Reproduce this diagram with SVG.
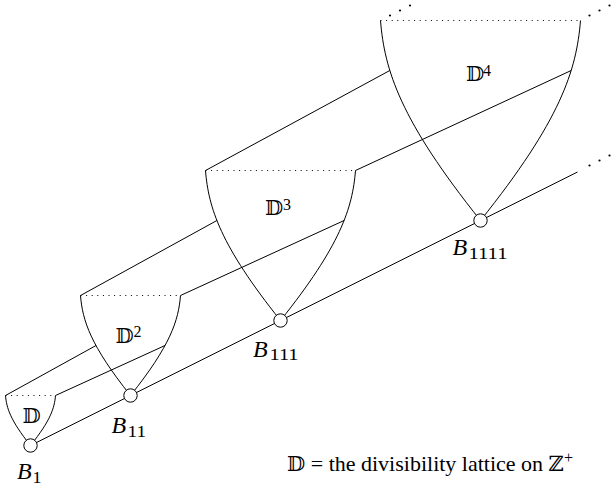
<svg xmlns="http://www.w3.org/2000/svg" width="611" height="492" viewBox="0 0 611 492">
<style>
.ln{stroke:#000;stroke-width:1;fill:none}
.dt{stroke:#000;stroke-width:1;stroke-dasharray:1 4.6;fill:none}
.nd{fill:#fff;stroke:#000;stroke-width:1}
.pt{fill:#000}
.it{font-family:'Liberation Serif',serif;font-style:italic;font-size:24px}
.sb{font-family:'Liberation Serif',serif;font-style:normal;font-size:16px}
.bb{font-family:'DejaVu Serif','DejaVu Sans',serif;font-size:21px}
.sp{font-family:'Liberation Serif',serif;font-size:16px}
.cp{font-family:'Liberation Serif',serif;font-size:22px}
</style>
<rect width="611" height="492" fill="#fff"/>
<g id="connectors">
<path class="ln" d="M30.5 445.5L130.5 395.5L280.5 320.5L480.5 220.5L577.5 172"/>
<path class="ln" d="M5.5 395.5L96 345.5M55.5 395.5L165 345.5"/>
<path class="ln" d="M80.5 295.5L216.9 220.5M180.5 295.5L344.1 220.5"/>
<path class="ln" d="M205.5 170.5L389.8 70.5M355.5 170.5L571.2 70.5"/>
<circle class="pt" cx="390" cy="15.5" r="1.1"/><circle class="pt" cx="400" cy="10.5" r="1.1"/><circle class="pt" cx="410" cy="5.5" r="1.1"/>
<circle class="pt" cx="589.5" cy="15.5" r="1.1"/><circle class="pt" cx="599.5" cy="10.5" r="1.1"/><circle class="pt" cx="609.5" cy="5.5" r="1.1"/>
<circle class="pt" cx="589.5" cy="165.5" r="1.1"/><circle class="pt" cx="599.5" cy="160.5" r="1.1"/><circle class="pt" cx="609.5" cy="155.5" r="1.1"/>
</g>
<g id="cup1">
<path class="ln" d="M5.5 395.5C6.5 408 10.5 420.5 30.5 445.5M55.5 395.5C54.5 408 50.5 420.5 30.5 445.5"/>
<path class="dt" d="M5.5 395.5H55.5"/>
<text class="bb" x="22.5" y="422.5">𝔻</text>
</g>
<g id="cup2">
<path class="ln" d="M80.5 295.5C82.5 320.5 90.5 345.5 130.5 395.5M180.5 295.5C178.5 320.5 170.5 345.5 130.5 395.5"/>
<path class="dt" d="M80.5 295.5H180.5"/>
<text class="bb" x="115.5" y="343">𝔻</text><text class="sp" x="133.5" y="336.5">2</text>
</g>
<g id="cup3">
<path class="ln" d="M205.5 170.5C208.5 208 220.5 245.5 280.5 320.5M355.5 170.5C352.5 208 340.5 245.5 280.5 320.5"/>
<path class="dt" d="M205.5 170.5H355.5"/>
<text class="bb" x="265" y="215">𝔻</text><text class="sp" x="283" y="209.5">3</text>
</g>
<g id="cup4">
<path class="ln" d="M380.5 20.5C384.5 70.5 400.5 120.5 480.5 220.5M580.5 20.5C576.5 70.5 560.5 120.5 480.5 220.5"/>
<path class="dt" d="M380.5 20.5H580.5"/>
<text class="bb" x="466" y="81">𝔻</text><text class="sp" x="483" y="75.5">4</text>
</g>
<g id="B1"><circle class="nd" cx="30.5" cy="445.5" r="6.7"/>
<text class="it" x="17" y="479">B<tspan class="sb" x="32.5" y="483" textLength="9" lengthAdjust="spacingAndGlyphs">1</tspan></text></g>
<g id="B11"><circle class="nd" cx="130.5" cy="395.5" r="6.7"/>
<text class="it" x="111.5" y="433">B<tspan class="sb" x="127.5" y="436.5" textLength="18.5" lengthAdjust="spacingAndGlyphs">11</tspan></text></g>
<g id="B111"><circle class="nd" cx="280.5" cy="320.5" r="6.7"/>
<text class="it" x="253" y="356.5">B<tspan class="sb" x="269.5" y="360" textLength="29" lengthAdjust="spacingAndGlyphs">111</tspan></text></g>
<g id="B1111"><circle class="nd" cx="480.5" cy="220.5" r="6.7"/>
<text class="it" x="452.5" y="255">B<tspan class="sb" x="468.5" y="258.5" textLength="39" lengthAdjust="spacingAndGlyphs">1111</tspan></text></g>
<g id="caption">
<text class="cp" x="287" y="471"><tspan class="bb">𝔻</tspan> = the divisibility lattice on <tspan class="bb">ℤ</tspan><tspan class="sp" dy="-8">+</tspan></text>
</g>
</svg>
